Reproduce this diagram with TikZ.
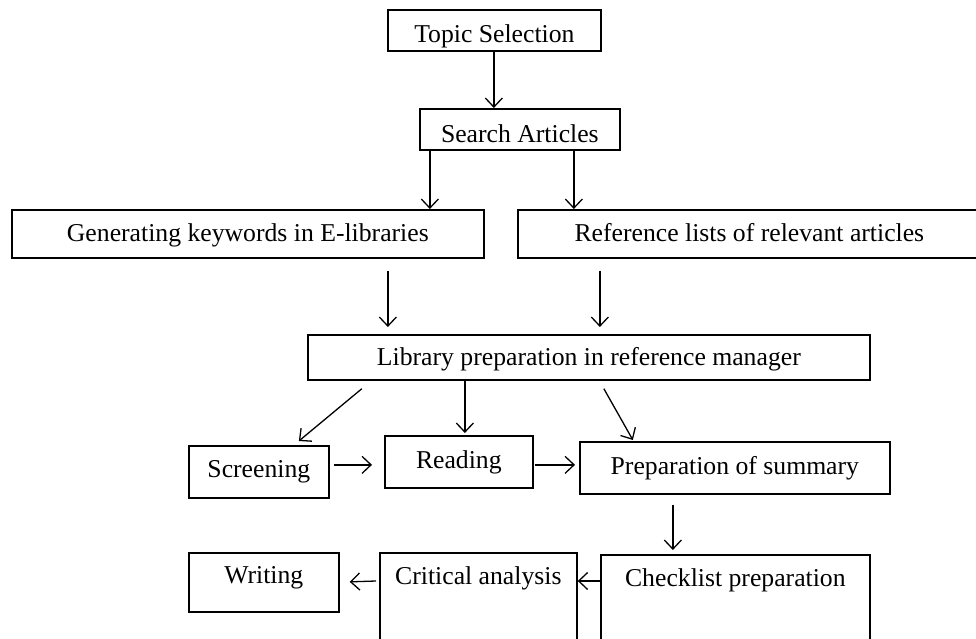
\documentclass[tikz,border=0pt]{standalone}
\usepackage{fontspec}
\setmainfont{Liberation Serif}
\usetikzlibrary{arrows.meta}

\begin{document}
\begin{tikzpicture}[x=1pt,y=-1pt,
  box/.style={draw, line width=1.7pt, inner sep=0pt, anchor=north west, align=center,
    font=\fontsize{25.7}{30}\selectfont},
  arr/.style={line width=1.3pt, -{Straight Barb[length=9pt,width=17pt,line width=1.3pt]}}]
\useasboundingbox (0,0) rectangle (976,639);

\node[box, minimum width=213pt, text height=32.7pt, text depth=8.3pt]  (topic)   at (387,9)   {Topic Selection};
\node[box, minimum width=200pt, text height=33.7pt, text depth=7.3pt]  (search)  at (419,108) {Search Articles};
\node[box, minimum width=472pt, text height=31.7pt, text depth=16.3pt] (gen)     at (11,209)  {Generating keywords in E-libraries};
\node[box, minimum width=463pt, text height=31.7pt, text depth=16.3pt] (ref)     at (517,209) {Reference lists of relevant articles};
\node[box, minimum width=562pt, text height=31pt,   text depth=14pt]   (lib)     at (307,334) {Library preparation in reference manager};
\node[box, minimum width=140pt, text height=32pt,   text depth=20pt]   (screen)  at (188,445) {Screening};
\node[box, minimum width=148pt, text height=33pt,   text depth=19pt]   (read)    at (384,435) {Reading};
\node[box, minimum width=310pt, text height=33pt,   text depth=19pt]   (prep)    at (579,441) {Preparation of summary};
\node[box, minimum width=150pt, text height=31pt,   text depth=28pt]   (writing) at (188,552) {Writing};
\node[box, minimum width=197pt, text height=32pt,   text depth=76pt]   (crit)    at (379,552) {Critical analysis};
\node[box, minimum width=269pt, text height=32pt,   text depth=74pt]   (check)   at (600,554) {Checklist preparation};

\draw[arr] ([xshift=-0.5pt]topic.south) -- ([xshift=-26pt]search.north);
\draw[arr] ([xshift=-90pt]search.south) -- ([xshift=182pt]gen.north);
\draw[arr] ([xshift=54pt]search.south) -- ([xshift=-175.5pt]ref.north);
\draw[arr] ([xshift=140pt,yshift=-12pt]gen.south) -- ([xshift=-201pt,yshift=7pt]lib.north);
\draw[arr] ([xshift=-149.5pt,yshift=-12pt]ref.south) -- ([xshift=11pt,yshift=7pt]lib.north);

\draw[arr] ([xshift=-227pt,yshift=-8pt]lib.south) -- ([xshift=40pt,yshift=4pt]screen.north);
\draw[arr] ([xshift=-124pt]lib.south) -- ([xshift=6pt,yshift=2pt]read.north);
\draw[arr] ([xshift=15pt,yshift=-8pt]lib.south) -- ([xshift=-102pt,yshift=1pt]prep.north);

\draw[arr] ([xshift=4pt,yshift=7pt]screen.east) -- ([xshift=-12pt,yshift=-3pt]read.west);
\draw[arr] ([xshift=1pt,yshift=-3pt]read.east) -- ([xshift=-4pt,yshift=3pt]prep.west);
\draw[arr] ([xshift=-62pt,yshift=-10pt]prep.south) -- ([xshift=-62.5pt,yshift=4pt]check.north);

\draw[arr] ([yshift=-27pt]check.north west) -- ([yshift=-29pt]crit.north east);
\draw[arr] ([xshift=-3pt,yshift=-29pt]crit.north west) -- ([xshift=10pt,yshift=0.5pt]writing.east);

\end{tikzpicture}
\end{document}
